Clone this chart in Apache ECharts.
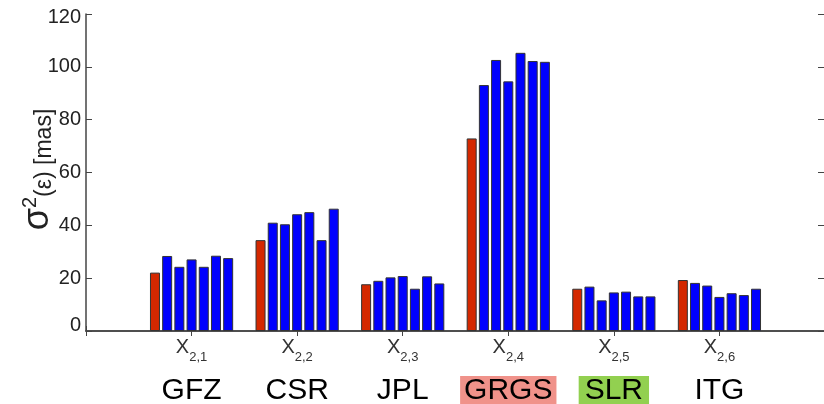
<!DOCTYPE html>
<html>
<head>
<meta charset="utf-8">
<script src="https://cdn.jsdelivr.net/npm/echarts@6/dist/echarts.min.js"></script>
<style>
html,body{margin:0;padding:0;background:#fff;}
#chart{width:824px;height:404px;}
</style>
</head>
<body>
<div id="chart"></div>
<script>
// ---- data ----
const subscripts = ['2,1', '2,2', '2,3', '2,4', '2,5', '2,6'];
const centres = ['GFZ', 'CSR', 'JPL', 'GRGS', 'SLR', 'ITG'];
// seven bars per group: first (red) then six blue
const gfz  = [22.1, 28.4, 24.3, 27.1, 24.3, 28.5, 27.6];
const csr  = [34.4, 41.0, 40.4, 44.2, 45.0, 34.4, 46.3];
const jpl  = [17.7, 19.0, 20.3, 20.8, 16.0, 20.7, 18.0];
const grgs = [72.9, 93.1, 102.6, 94.5, 105.3, 102.2, 101.9];
const slr  = [16.0, 16.8, 11.6, 14.6, 14.9, 13.1, 13.1];
const itg  = [19.3, 18.2, 17.2, 12.9, 14.3, 13.6, 16.0];
const yTicks = [0, 20, 40, 60, 80, 100, 120];

// ---- build ----
const groups = [gfz, csr, jpl, grgs, slr, itg];
const axisCats = ['L'].concat(subscripts, ['R']);
const boxStyle = { GRGS: 'grgs', SLR: 'slr' };

const series = [];
for (let k = 0; k < 7; k++) {
  const d = ['-'].concat(groups.map(g => g[k]), ['-']);
  series.push({
    type: 'bar',
    data: d,
    barWidth: 10,
    barGap: '22%',
    itemStyle: {
      color: k === 0 ? '#d42800' : '#0000fe',
      borderColor: '#333',
      borderWidth: 1
    },
    silent: true
  });
}

const axisColor = '#444';
const chart = echarts.init(document.getElementById('chart'), null, { renderer: 'canvas' });
chart.setOption({
  animation: false,
  backgroundColor: '#fff',
  grid: { show: false, left: 86, width: 739, top: 14, height: 317, containLabel: false, outerBoundsMode: 'none' },
  xAxis: [
    {
      type: 'category',
      data: axisCats,
      boundaryGap: false,
      position: 'bottom',
      axisLine: { lineStyle: { color: axisColor, width: 1.5 } },
      axisTick: { inside: true, length: 5, lineStyle: { color: axisColor } },
      axisLabel: {
        interval: 0,
        margin: 4,
        formatter: function (v, i) {
          const idx = subscripts.indexOf(v);
          if (idx < 0) return '';
          const name = centres[idx];
          const st = boxStyle[name] || 'nm';
          return '{x|X}{sub|' + v + '}{sp| }\n{' + st + '|' + name + '}';
        },
        rich: {
          x: { fontFamily: 'Liberation Sans', fontSize: 20, color: '#333', lineHeight: 26, verticalAlign: 'top', padding: [2, 0, 0, 0] },
          sub: { fontFamily: 'Liberation Sans', fontSize: 13, color: '#333', lineHeight: 14, verticalAlign: 'top', padding: [16, 0, 11, 0] },
          sp: { fontSize: 1, lineHeight: 41, width: 0 },
          nm: { fontFamily: 'Liberation Sans', fontSize: 30, color: '#000', lineHeight: 30 },
          grgs: { fontFamily: 'Liberation Sans', fontSize: 30, color: '#000', lineHeight: 30, backgroundColor: '#f0928a', padding: [0, 4] },
          slr: { fontFamily: 'Liberation Sans', fontSize: 30, color: '#000', lineHeight: 30, backgroundColor: '#92d050', padding: [0, 6] }
        }
      },
      splitLine: { show: false }
    },
    {
      type: 'category',
      data: axisCats,
      boundaryGap: false,
      position: 'top',
      axisLine: { lineStyle: { color: axisColor, width: 1.5 } },
      axisTick: { inside: true, length: 5, lineStyle: { color: axisColor } },
      axisLabel: { show: false },
      splitLine: { show: false }
    }
  ],
  yAxis: [
    {
      type: 'value',
      min: yTicks[0],
      max: yTicks[yTicks.length - 1],
      interval: yTicks[1] - yTicks[0],
      position: 'left',
      name: '{s|σ}{sup|2}{t|(ε) [mas]}',
      nameLocation: 'middle',
      nameGap: 30,
      nameMoveOverlap: false,
      nameTextStyle: {
        padding: [0, 0, 0, 6],
        rich: {
          s: { fontFamily: 'Liberation Sans', fontSize: 36, color: '#222', lineHeight: 36, verticalAlign: 'bottom' },
          sup: { fontFamily: 'Liberation Sans', fontSize: 20, color: '#222', lineHeight: 20, verticalAlign: 'top' },
          t: { fontFamily: 'Liberation Sans', fontSize: 23, color: '#222', lineHeight: 30, verticalAlign: 'bottom' }
        }
      },
      axisLine: { show: true, lineStyle: { color: axisColor, width: 1.5 } },
      axisTick: { show: true, inside: true, length: 6, lineStyle: { color: axisColor } },
      axisLabel: {
        margin: 5,
        formatter: function (v) {
          if (v === yTicks[0]) return '{lo|' + v + '}';
          if (v === yTicks[yTicks.length - 1]) return '{hi|' + v + '}';
          return '{n|' + v + '}';
        },
        rich: {
          n: { fontFamily: 'Liberation Sans', fontSize: 20, color: '#222' },
          lo: { fontFamily: 'Liberation Sans', fontSize: 20, color: '#222', padding: [0, 0, 12, 0] },
          hi: { fontFamily: 'Liberation Sans', fontSize: 20, color: '#222', padding: [7, 0, 0, 0] }
        }
      },
      splitLine: { show: false }
    },
    {
      type: 'value',
      min: yTicks[0],
      max: yTicks[yTicks.length - 1],
      interval: yTicks[1] - yTicks[0],
      position: 'right',
      axisLine: { show: false },
      axisTick: { show: true, inside: true, length: 7, lineStyle: { color: axisColor } },
      axisLabel: { show: false },
      splitLine: { show: false }
    }
  ],
  series: series
});
</script>
</body>
</html>
